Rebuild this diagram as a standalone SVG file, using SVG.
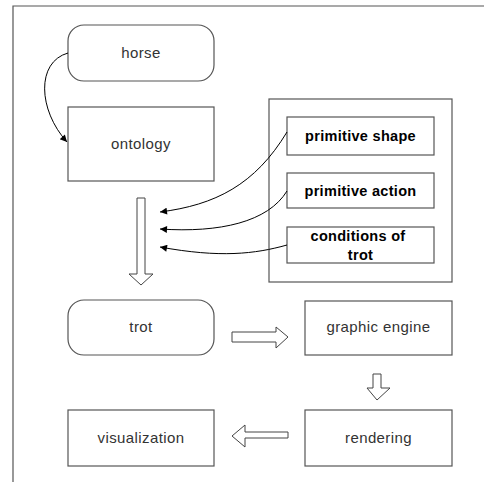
<svg xmlns="http://www.w3.org/2000/svg" width="484" height="483" viewBox="0 0 484 483">
<defs>
<style>
.box{fill:#fff;stroke:#555;stroke-width:1.2}
.lbl{font-family:"Liberation Sans",Arial,sans-serif;font-size:15px;fill:#333;text-anchor:middle;letter-spacing:0.4px}
.blbl{font-family:"Liberation Sans",Arial,sans-serif;font-size:14.5px;font-weight:bold;fill:#000;text-anchor:middle;letter-spacing:0.3px}
.conn{fill:none;stroke:#000;stroke-width:1}
.hollow{fill:#fff;stroke:#444;stroke-width:1}
</style>
<marker id="ah" viewBox="0 0 10 10" refX="10" refY="5" markerWidth="9" markerHeight="7" markerUnits="userSpaceOnUse" orient="auto">
<path d="M0,0 L10,5 L0,10 z" fill="#000"/>
</marker>
</defs>
<rect width="484" height="483" fill="#fff"/>
<g id="frame">
<path d="M13,482 L13,6 L484,6" fill="none" stroke="#555" stroke-width="1.2"/>
</g>
<g id="horse">
<rect class="box" x="68" y="25" width="146" height="56" rx="16" ry="16"/>
<text class="lbl" x="141" y="58">horse</text>
</g>
<g id="ontology">
<rect class="box" x="68" y="107" width="146" height="74"/>
<text class="lbl" x="141" y="149">ontology</text>
</g>
<g id="group-box">
<rect class="box" x="269" y="99" width="183" height="183"/>
</g>
<g id="primitive-shape">
<rect class="box" x="287" y="117" width="147" height="38"/>
<text class="blbl" x="360.5" y="141">primitive shape</text>
</g>
<g id="primitive-action">
<rect class="box" x="287" y="173" width="147" height="35"/>
<text class="blbl" x="360.5" y="196">primitive action</text>
</g>
<g id="conditions-of-trot">
<rect class="box" x="287" y="227" width="147" height="36"/>
<text class="blbl" x="358" y="241">conditions of</text>
<text class="blbl" x="360.5" y="260">trot</text>
</g>
<g id="trot">
<rect class="box" x="68" y="300" width="146" height="55" rx="16" ry="16"/>
<text class="lbl" x="141" y="332">trot</text>
</g>
<g id="graphic-engine">
<rect class="box" x="305" y="301" width="147" height="54"/>
<text class="lbl" x="378.5" y="332">graphic engine</text>
</g>
<g id="rendering">
<rect class="box" x="305" y="410" width="147" height="56"/>
<text class="lbl" x="378.5" y="443">rendering</text>
</g>
<g id="visualization">
<rect class="box" x="68" y="410" width="146" height="56"/>
<text class="lbl" x="141" y="443">visualization</text>
</g>
<g id="connectors">
<path class="conn" d="M68,53 C36,62 38,110 67,142" marker-end="url(#ah)"/>
<path class="conn" d="M287,132 C255,185 215,205 160,212" marker-end="url(#ah)"/>
<path class="conn" d="M287,191 C268,222 220,233 160,229" marker-end="url(#ah)"/>
<path class="conn" d="M287,245 C255,254 220,258 160,247" marker-end="url(#ah)"/>
<path class="hollow" d="M137,198 L145,198 L145,274 L153,274 L141,285 L129,274 L137,274 z"/>
<path class="hollow" d="M232,332 L276,332 L276,327 L288,337 L276,348 L276,342 L232,342 z"/>
<path class="hollow" d="M373,374 L381,374 L381,388 L390,388 L377,400 L367,388 L373,388 z"/>
<path class="hollow" d="M288,432 L245,432 L245,425 L232,436 L245,447 L245,438 L288,438 z"/>
</g>
</svg>
